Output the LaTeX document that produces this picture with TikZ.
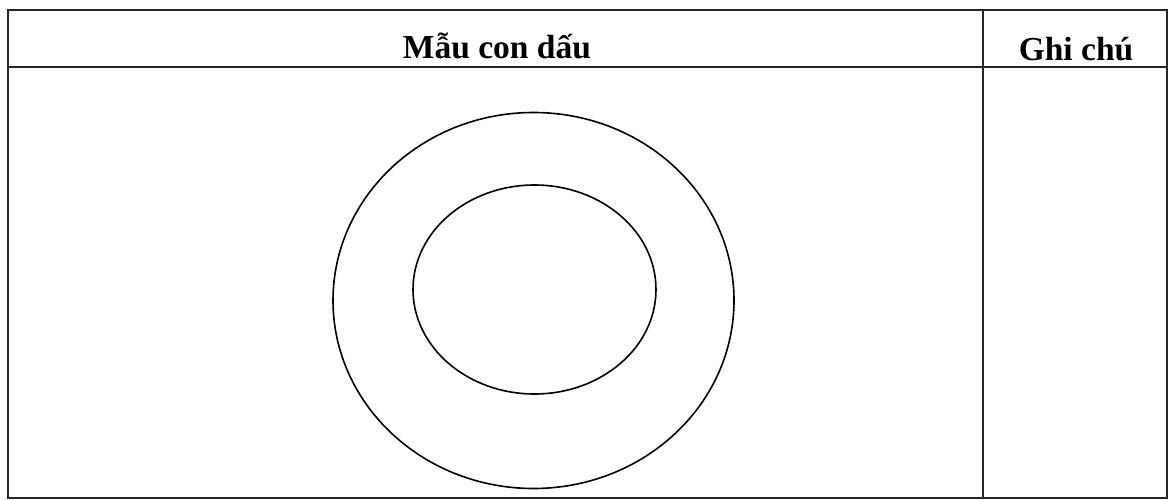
\documentclass[tikz,border=0pt]{standalone}
\usepackage{fontspec}
\setmainfont{Liberation Serif}
\begin{document}
\begin{tikzpicture}[x=1pt,y=-1pt,
  rule/.style={draw=black!85,line width=1.5pt},
  ring/.style={draw=black,line width=1.6pt},
  head/.style={font=\fontsize{33.5}{40}\selectfont\bfseries,anchor=base,inner sep=0pt}]
\useasboundingbox (0,0) rectangle (1170,500);
\fill[white] (0,0) rectangle (1170,500);
\coordinate (tl) at (8,10);
\coordinate (br) at (1167,498);
\draw[rule] (tl) rectangle (br);
\coordinate (hl) at (8,67);
\coordinate (hr) at (1167,67);
\draw[rule] (hl) -- (hr);
\coordinate (ct) at (983,10);
\coordinate (cb) at (983,498);
\draw[rule] (ct) -- (cb);
\node[head] (t1) at (497,59) {Mẫu con dấu};
\node[head] (t2) at (1076,61) {Ghi chú};
\draw[ring] (533.5,300.5) ellipse [x radius=200.5, y radius=188];
\draw[ring] (534.5,289.5) ellipse [x radius=121.5, y radius=104.5];
\end{tikzpicture}
\end{document}
